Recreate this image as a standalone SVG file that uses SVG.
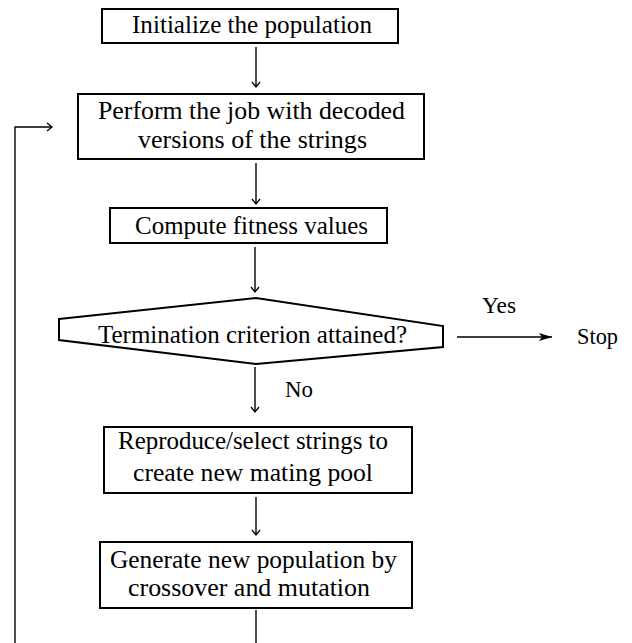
<svg xmlns="http://www.w3.org/2000/svg" width="632" height="643" viewBox="0 0 632 643">
<style>
.box{fill:#fff;stroke:#000;stroke-width:2}
.t{font-family:"Liberation Serif","Times New Roman",serif;font-size:26px;fill:#000;text-anchor:start}
.lbl{font-family:"Liberation Serif","Times New Roman",serif;font-size:24px;fill:#000}
.c{fill:none;stroke:#000;stroke-width:1.4}
</style>
<defs>
<marker id="v" markerUnits="userSpaceOnUse" markerWidth="12" markerHeight="12" refX="6" refY="6" orient="auto">
<path d="M1,2 L6,6 L1,10" fill="none" stroke="#000" stroke-width="1.3"/>
</marker>
<marker id="f" markerUnits="userSpaceOnUse" markerWidth="14" markerHeight="10" refX="13" refY="5" orient="auto">
<path d="M0,1 L13,5 L0,9 L3,5 Z" fill="#000"/>
</marker>
</defs>
<rect width="632" height="643" fill="#fff"/>
<g id="connectors">
<line class="c" x1="256" y1="47" x2="256" y2="87" marker-end="url(#v)"/>
<line class="c" x1="256" y1="163" x2="256" y2="204" marker-end="url(#v)"/>
<line class="c" x1="255" y1="247" x2="255" y2="292" marker-end="url(#v)"/>
<line class="c" x1="255" y1="367" x2="255" y2="412" marker-end="url(#v)"/>
<line class="c" x1="256" y1="497" x2="256" y2="535" marker-end="url(#v)"/>
<line class="c" x1="256" y1="610" x2="256" y2="643"/>
<path class="c" d="M15,643 V127 H52" marker-end="url(#v)"/>
<line class="c" x1="457" y1="337" x2="552" y2="337" marker-end="url(#f)"/>
<text class="lbl" x="482" y="313" textLength="34" lengthAdjust="spacingAndGlyphs">Yes</text>
<text class="lbl" x="285" y="397" textLength="28" lengthAdjust="spacingAndGlyphs">No</text>
</g>
<g id="n1">
<rect class="box" x="102" y="9" width="296" height="34"/>
<text class="t" x="132" y="33" textLength="240" lengthAdjust="spacingAndGlyphs">Initialize the population</text>
</g>
<g id="n2">
<rect class="box" x="78" y="94" width="346" height="65"/>
<text class="t" x="98" y="119" textLength="307" lengthAdjust="spacingAndGlyphs">Perform the job with decoded</text>
<text class="t" x="138" y="148" textLength="229" lengthAdjust="spacingAndGlyphs">versions of the strings</text>
</g>
<g id="n3">
<rect class="box" x="110" y="208" width="277" height="35"/>
<text class="t" x="135" y="234" textLength="233" lengthAdjust="spacingAndGlyphs">Compute fitness values</text>
</g>
<g id="n4">
<polygon class="box" points="59,319 256,298 443,326 443,347 256,364 59,340"/>
<text class="t" x="98" y="343" textLength="309" lengthAdjust="spacingAndGlyphs">Termination criterion attained?</text>
</g>
<g id="n5">
<text class="lbl" x="577" y="344" textLength="41" lengthAdjust="spacingAndGlyphs">Stop</text>
</g>
<g id="n6">
<rect class="box" x="104" y="427" width="308" height="66"/>
<text class="t" x="118" y="449" textLength="270" lengthAdjust="spacingAndGlyphs">Reproduce/select strings to</text>
<text class="t" x="133" y="481" textLength="240" lengthAdjust="spacingAndGlyphs">create new mating pool</text>
</g>
<g id="n7">
<rect class="box" x="100" y="542" width="312" height="66"/>
<text class="t" x="110" y="568" textLength="287" lengthAdjust="spacingAndGlyphs">Generate new population by</text>
<text class="t" x="128" y="596" textLength="242" lengthAdjust="spacingAndGlyphs">crossover and mutation</text>
</g>
</svg>
